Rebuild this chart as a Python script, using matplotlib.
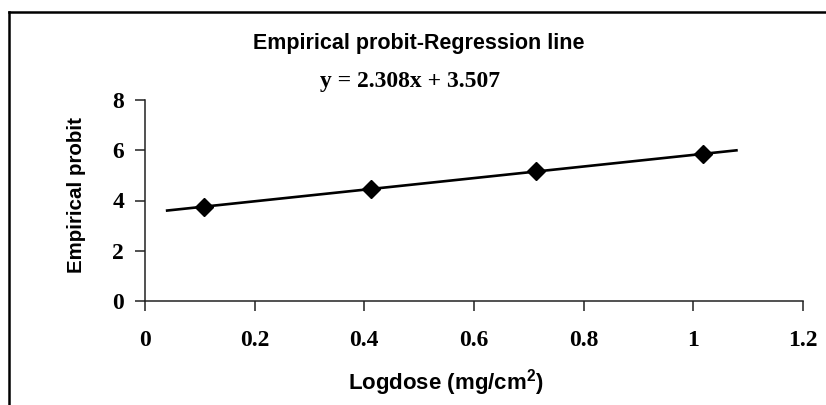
import numpy as np
import matplotlib.pyplot as plt
from matplotlib.lines import Line2D

# data
logdose = [0.108, 0.412, 0.713, 1.017]
probit = [3.73, 4.45, 5.18, 5.86]
slope, intercept = 2.308, 3.507
fit_range = [0.038, 1.081]
x_ticks = [0, 0.2, 0.4, 0.6, 0.8, 1, 1.2]
x_tick_labels = ["0", "0.2", "0.4", "0.6", "0.8", "1", "1.2"]
y_ticks = [0, 2, 4, 6, 8]

W, H = 826, 405
fig = plt.figure(figsize=(W / 100, H / 100), dpi=100)
ax = fig.add_axes([145 / W, (H - 301) / H, (803 - 145) / W, (301 - 100) / H])

fit_x = np.array(fit_range)
ax.plot(fit_x, slope * fit_x + intercept, color="black", lw=1.9, solid_capstyle="butt")
ax.plot(logdose, probit, linestyle="none", marker="D", ms=9.5, color="black")

ax.set_xlim(0, 1.2)
ax.set_ylim(0, 8)
ax.set_xticks(x_ticks)
ax.set_xticklabels(x_tick_labels)
ax.set_yticks(y_ticks)
for s in ["top", "right"]:
    ax.spines[s].set_visible(False)
for s in ["left", "bottom"]:
    ax.spines[s].set_linewidth(1.1)
    ax.spines[s].set_color("#222222")
ax.tick_params(direction="out", length=7, width=1.1, color="#222222")
ax.tick_params(axis="x", pad=14)
ax.tick_params(axis="y", pad=8)
for lab in ax.get_xticklabels() + ax.get_yticklabels():
    lab.set_family("Liberation Serif")
    lab.set_fontweight("bold")
    lab.set_fontsize(17)

fig.text(419 / W, 1 - 43 / H, "Empirical probit-Regression line", ha="center", va="center",
         family="Liberation Sans", fontweight="bold", fontsize=15.5)
fig.text(410 / W, 1 - 82 / H, "y = 2.308x + 3.507", ha="center", va="center",
         family="Liberation Serif", fontweight="bold", fontsize=17)
fig.text(446 / W, 1 - 383 / H, "Logdose (mg/cm$^\\mathregular{2}$)", ha="center", va="center",
         family="Liberation Sans", fontweight="bold", fontsize=16)
fig.text(76 / W, 1 - 195 / H, "Empirical probit", ha="center", va="center", rotation=90,
         family="Liberation Sans", fontweight="bold", fontsize=14.8)

# outer chart frame (right and bottom edges fall outside the image)
fig.add_artist(Line2D([9 / W, 1.0], [1 - 12 / H, 1 - 12 / H], color="black", lw=1.8))
fig.add_artist(Line2D([9 / W, 9 / W], [0, 1 - 12 / H], color="black", lw=1.8))

fig.savefig("out.png", dpi=100)
